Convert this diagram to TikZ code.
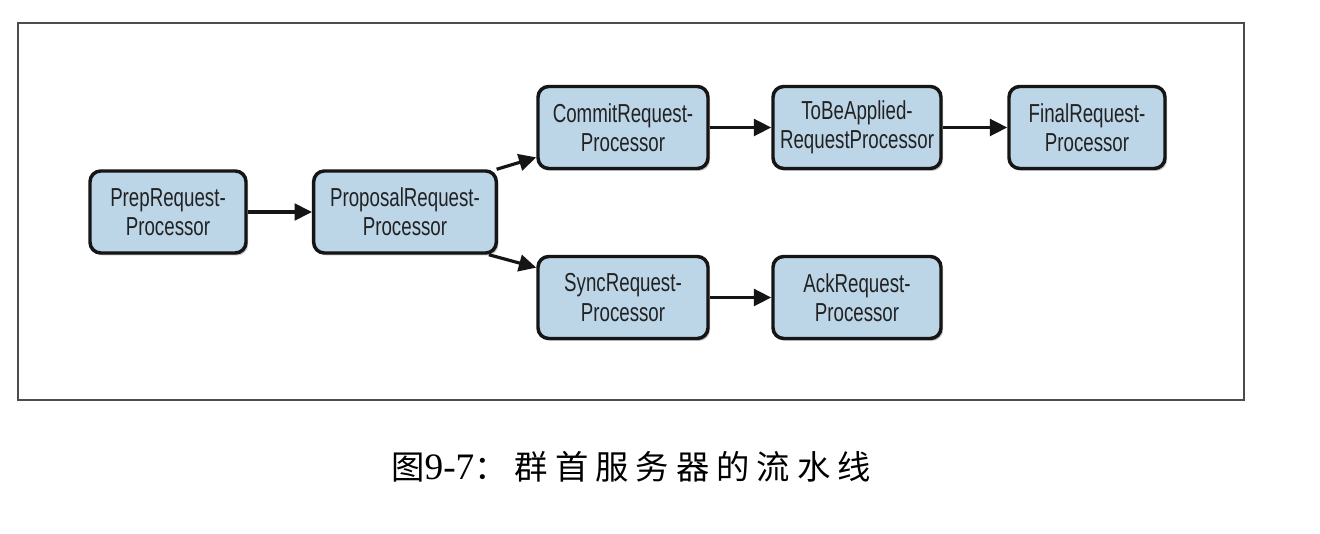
\documentclass[tikz,border=0pt]{standalone}
\usepackage{fontspec}
\setmainfont{Liberation Sans}
\newfontfamily\boxfont[FakeStretch=0.72]{Liberation Sans}
\newfontfamily\cjk[LetterSpace=21]{Noto Sans CJK SC}
\newfontfamily\capserif{Liberation Serif}
\usetikzlibrary{arrows.meta,shadows}
\definecolor{boxfill}{HTML}{BCD6E8}
\definecolor{boxline}{HTML}{151515}
\definecolor{txt}{HTML}{222222}
\tikzset{
  proc/.style={draw=boxline, line width=2.6pt, fill=boxfill, rounded corners=8pt,
    minimum height=61.5pt, align=center, inner sep=0pt, text=txt,
    font=\boxfont\fontsize{19.5}{22}\selectfont,
    drop shadow={shadow xshift=1.5pt, shadow yshift=-1.8pt, fill=black, opacity=0.22}},
  conn/.style={line width=2.4pt, draw=boxline, -{Triangle[length=13pt,width=12.5pt]}},
}
\begin{document}
\begin{tikzpicture}[x=0.75pt,y=-0.75pt]
\useasboundingbox (0,0) rectangle (1320,534);
\fill[white] (0,0) rectangle (1320,534);
% frame
\draw[draw=black!70, line width=1.4pt] (18,23) rectangle (1244,400);
% nodes
\node[proc, minimum width=117pt] (prep) at (168,212) {PrepRequest-\\Processor};
\node[proc, minimum width=137pt] (prop) at (405,212) {ProposalRequest-\\Processor};
\node[proc, minimum width=127.5pt] (commit) at (623,127.5) {CommitRequest-\\Processor};
\node[proc, minimum width=126pt] (tobe) at (857,127.5) {ToBeApplied-\\RequestProcessor};
\node[proc, minimum width=117pt] (final) at (1087,127.5) {FinalRequest-\\Processor};
\node[proc, minimum width=127.5pt] (sync) at (623,297.5) {SyncRequest-\\Processor};
\node[proc, minimum width=126pt] (ack) at (857,297.5) {AckRequest-\\Processor};
% connectors
\draw[conn] (prep) -- (prop);
\draw[conn] (prop.25) -- (commit.199);
\draw[conn] (prop.-27) -- (sync.161);
\draw[conn] (commit) -- (tobe);
\draw[conn] (tobe) -- (final);
\draw[conn] (sync) -- (ack);
% caption
\node[text=black, font=\fontsize{25}{29}\selectfont, inner sep=0pt] (cap) at (631,467)
  {{\cjk 图}{\capserif\fontsize{28}{30}\selectfont 9-7}{\cjk ：群首服务器的流水线}};
\end{tikzpicture}
\end{document}
